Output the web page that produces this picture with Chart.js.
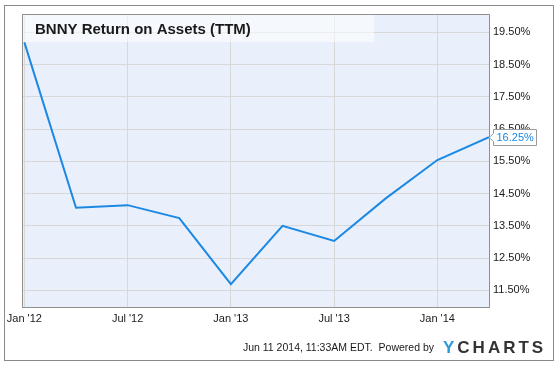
<!DOCTYPE html>
<html>
<head>
<meta charset="utf-8">
<script src="https://cdn.jsdelivr.net/npm/chart.js@4"></script>
<style>
  html, body { margin: 0; padding: 0; background: #ffffff; }
  #wrap { width: 560px; height: 368px; position: relative; }
  canvas { display: block; }
</style>
</head>
<body>
<div id="wrap"><canvas id="c" width="560" height="368"></canvas></div>
<script>
// ---- data ----
const chartTitle = "BNNY Return on Assets (TTM)";
const quarterDates = ["2012-01", "2012-04", "2012-07", "2012-10", "2013-01", "2013-04", "2013-07", "2013-10", "2014-01", "2014-04"];
const roaValues = [19.19, 14.06, 14.14, 13.74, 11.69, 13.50, 13.03, 14.35, 15.54, 16.25];
const xTickDates = ["2012-01", "2012-07", "2013-01", "2013-07", "2014-01"];
const xTickLabels = ["Jan '12", "Jul '12", "Jan '13", "Jul '13", "Jan '14"];
const yTickValues = [11.5, 12.5, 13.5, 14.5, 15.5, 16.5, 17.5, 18.5, 19.5];
const footerText = "Jun 11 2014, 11:33AM EDT.  Powered by";

// months since Jan 2012
function monthIndex(s) {
  const [y, m] = s.split("-").map(Number);
  return (y - 2012) * 12 + (m - 1);
}
const points = quarterDates.map((d, i) => ({ x: monthIndex(d), y: roaValues[i] }));
const xTickMonths = xTickDates.map(monthIndex);

const LINE = "#1b88e3";
const FONT = "'Liberation Sans', Arial, sans-serif";

const decor = {
  id: "decor",
  beforeDraw(chart) {
    const { ctx, chartArea: a } = chart;
    ctx.save();
    ctx.fillStyle = "#ffffff";
    ctx.fillRect(0, 0, chart.width, chart.height);
    // outer frame
    ctx.strokeStyle = "#8a8a8a";
    ctx.lineWidth = 1;
    ctx.strokeRect(4.5, 5.5, 549, 355);
    // plot background
    ctx.fillStyle = "#e9f0fb";
    ctx.fillRect(a.left, a.top, a.right - a.left, a.bottom - a.top);
    ctx.restore();
  },
  beforeDatasetsDraw(chart) {
    const { ctx, chartArea: a } = chart;
    ctx.save();
    // title band
    ctx.fillStyle = "rgba(255,255,255,0.55)";
    ctx.fillRect(a.left, a.top, 374 - a.left, 27);
    ctx.fillStyle = "#1a1a1a";
    ctx.font = "bold 15px " + FONT;
    ctx.textBaseline = "middle";
    ctx.textAlign = "left";
    ctx.fillText(chartTitle, 35, 30);
    ctx.restore();
  },
  afterDraw(chart) {
    const { ctx, chartArea: a, scales } = chart;
    ctx.save();
    // plot border
    ctx.strokeStyle = "#8f8f8f";
    ctx.lineWidth = 1;
    ctx.strokeRect(a.left - 0.5, a.top - 0.5, a.right - a.left + 1, a.bottom - a.top + 1);

    // last value callout
    const last = points[points.length - 1];
    const px = scales.x.getPixelForValue(last.x);
    const py = Math.round(scales.y.getPixelForValue(last.y)) + 0.5;
    const bx = px + 4.5, bw = 43, bh = 16;
    ctx.beginPath();
    ctx.moveTo(px, py);
    ctx.lineTo(bx, py - 4);
    ctx.lineTo(bx, py - bh / 2);
    ctx.lineTo(bx + bw, py - bh / 2);
    ctx.lineTo(bx + bw, py + bh / 2);
    ctx.lineTo(bx, py + bh / 2);
    ctx.lineTo(bx, py + 4);
    ctx.closePath();
    ctx.fillStyle = "#ffffff";
    ctx.fill();
    ctx.strokeStyle = "#9a9a9a";
    ctx.stroke();
    ctx.fillStyle = LINE;
    ctx.font = "11px " + FONT;
    ctx.textBaseline = "middle";
    ctx.textAlign = "left";
    ctx.fillText(last.y.toFixed(2) + "%", bx + 3, py + 0.5);

    // footer
    ctx.fillStyle = "#1a1a1a";
    ctx.font = "10.5px " + FONT;
    ctx.textAlign = "right";
    ctx.fillText(footerText, 434, 348);

    // logo
    ctx.textAlign = "left";
    ctx.font = "bold 17px " + FONT;
    const letters = ["Y", "C", "H", "A", "R", "T", "S"];
    let x = 443;
    letters.forEach((ch, i) => {
      ctx.fillStyle = i === 0 ? "#2a9bdc" : "#333333";
      ctx.fillText(ch, x, 348);
      x += ctx.measureText(ch).width + 3.0;
    });
    ctx.restore();
  }
};

new Chart(document.getElementById("c"), {
  type: "line",
  data: {
    datasets: [{
      data: points,
      borderColor: LINE,
      borderWidth: 2,
      pointRadius: 0,
      tension: 0,
      fill: false
    }]
  },
  options: {
    responsive: false,
    animation: false,
    devicePixelRatio: 1,
    layout: { padding: { left: 23, top: 15, right: 0, bottom: 0 } },
    plugins: { legend: { display: false }, tooltip: { enabled: false }, title: { display: false } },
    scales: {
      x: {
        type: "linear",
        min: -0.08,
        max: 27,
        afterFit(s) { s.height = 61; },
        afterBuildTicks(s) { s.ticks = xTickMonths.map(v => ({ value: v })); },
        grid: { color: "#d8d8d8", drawTicks: false, lineWidth: 1 },
        border: { display: false },
        ticks: {
          padding: 5,
          maxRotation: 0,
          autoSkip: false,
          color: "#1a1a1a",
          font: { family: FONT, size: 11 },
          callback(v) { const i = xTickMonths.indexOf(v); return i >= 0 ? xTickLabels[i] : ""; }
        }
      },
      y: {
        position: "right",
        min: 10.98,
        max: 20.04,
        afterFit(s) { s.width = 71; },
        afterBuildTicks(s) { s.ticks = yTickValues.map(v => ({ value: v })); },
        grid: { color: "#d8d8d8", drawTicks: false, lineWidth: 1 },
        border: { display: false },
        ticks: {
          padding: 4,
          color: "#1a1a1a",
          font: { family: FONT, size: 11 },
          callback(v) { return Number(v).toFixed(2) + "%"; }
        }
      }
    }
  },
  plugins: [decor]
});
</script>
</body>
</html>
